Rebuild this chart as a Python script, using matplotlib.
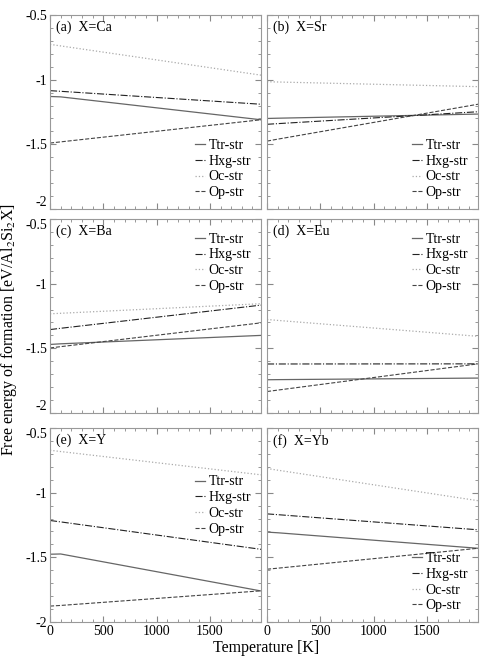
import matplotlib
matplotlib.use("Agg")
import matplotlib.pyplot as plt
from matplotlib.ticker import MultipleLocator

plt.rcParams['font.family'] = ['Liberation Serif', 'DejaVu Serif']
plt.rcParams['mathtext.fontset'] = 'stix'

T = [0, 100, 1980]

# free energy of formation [eV/Al2Si2X], one list per structure
panels = ["(a)  X=Ca", "(b)  X=Sr", "(c)  X=Ba", "(d)  X=Eu", "(e)  X=Y", "(f)  X=Yb"]
ttr = [[-1.13, -1.133, -1.31], [-1.30, -1.298, -1.266], [-1.47, -1.465, -1.40],
       [-1.743, -1.742, -1.73], [-1.476, -1.474, -1.76], [-1.305, -1.31, -1.43]]
hxg = [[-1.085, -1.09, -1.19], [-1.345, -1.34, -1.248], [-1.355, -1.345, -1.166],
       [-1.621, -1.621, -1.62], [-1.215, -1.226, -1.438], [-1.164, -1.17, -1.287]]
oc = [[-0.727, -0.739, -0.965], [-1.016, -1.018, -1.054], [-1.233, -1.229, -1.155],
      [-1.277, -1.284, -1.407], [-0.672, -0.682, -0.862], [-0.813, -0.826, -1.062]]
op = [[-1.49, -1.481, -1.31], [-1.475, -1.46, -1.19], [-1.497, -1.487, -1.303],
      [-1.834, -1.823, -1.62], [-1.877, -1.872, -1.759], [-1.592, -1.584, -1.43]]

legend_loc = [("lower right", (1.0, 0.0)), ("lower right", (1.0, 0.0)),
              ("upper right", (1.0, 0.98)), ("upper right", (1.0, 0.98)),
              ("center right", (1.0, 0.6)), ("lower right", (1.0, 0.0))]

fig = plt.figure(figsize=(4.84, 6.6), dpi=100)
lefts = [50 / 484, 267 / 484]
w = 211 / 484
bottoms = [(660 - 209) / 660, (660 - 413) / 660, (660 - 622) / 660]
h = 194 / 660

for i in range(6):
    r, c = divmod(i, 2)
    ax = fig.add_axes([lefts[c], bottoms[r], w, h])
    ax.plot(T, ttr[i], color='#666666', ls='-', lw=0.9, label='Ttr-str')
    ax.plot(T, hxg[i], color='#222222', ls='-.', lw=0.8, label='Hxg-str')
    ax.plot(T, oc[i], color='#aaaaaa', ls=':', lw=0.9, label='Oc-str')
    ax.plot(T, op[i], color='#444444', ls='--', lw=0.8, label='Op-str')
    ax.set_xlim(0, 1980)
    ax.set_ylim(-2, -0.5)
    ax.xaxis.set_major_locator(MultipleLocator(500))
    ax.xaxis.set_minor_locator(MultipleLocator(100))
    ax.yaxis.set_major_locator(MultipleLocator(0.5))
    ax.yaxis.set_minor_locator(MultipleLocator(0.1))
    ax.tick_params(which='both', direction='in', top=True, right=True,
                   labelsize=10, color='#888888', pad=2)
    ax.tick_params(which='major', length=4)
    ax.tick_params(which='minor', length=2)
    for s in ax.spines.values():
        s.set_color('#999999')
        s.set_linewidth(0.8)
    if c == 1:
        ax.set_yticklabels([])
    else:
        ax.set_yticks([-2, -1.5, -1, -0.5])
        labs = ax.set_yticklabels(['-2', '-1.5', '-1', '-0.5'])
        if r < 2:
            labs[0].set_verticalalignment('bottom')
        if r > 0:
            labs[3].set_verticalalignment('top')
    if r < 2:
        ax.set_xticklabels([])
    ax.text(0.03, 0.97, panels[i], transform=ax.transAxes, ha='left', va='top',
            fontsize=10)
    loc, anchor = legend_loc[i]
    ax.legend(loc=loc, bbox_to_anchor=anchor, frameon=False, fontsize=10,
              handlelength=0.7, handletextpad=0.3, labelspacing=0.2,
              borderaxespad=0.3)

fig.text(0.018, 0.5, 'Free energy of formation [eV/Al$_2$Si$_2$X]', rotation=90,
         ha='center', va='center', fontsize=11.5)
fig.text(0.55, 0.018, 'Temperature [K]', ha='center', va='center', fontsize=11.5)

fig.savefig('out.png', dpi=100)
